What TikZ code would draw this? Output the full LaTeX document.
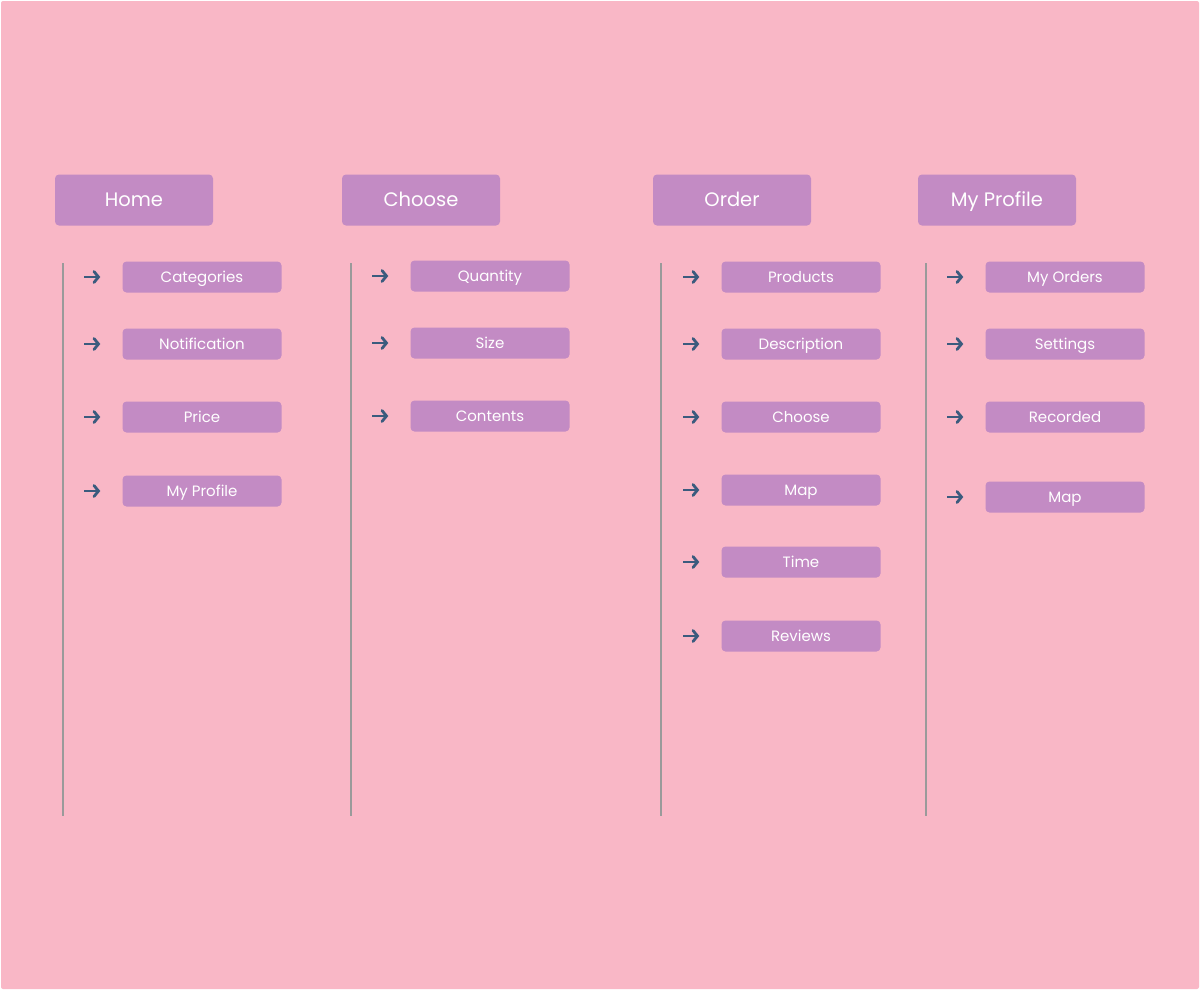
\documentclass[tikz,border=0pt]{standalone}
\usepackage{fontspec}
\setmainfont{Poppins}
\usetikzlibrary{arrows.meta}
\definecolor{bgpink}{HTML}{F9B7C6}
\definecolor{boxpurple}{HTML}{C38BC4}
\definecolor{arrowblue}{HTML}{3B5B7E}
\definecolor{linegray}{HTML}{9A9A9A}

\begin{document}
\begin{tikzpicture}[x=1pt,y=-1pt,
  head/.style={fill=boxpurple,rounded corners=4pt,minimum width=158pt,minimum height=51pt,inner sep=0pt,text=white,text height=16.5pt,text depth=3pt,font=\fontsize{19.5}{22}\selectfont},
  item/.style={fill=boxpurple,rounded corners=4pt,minimum width=159pt,minimum height=31pt,inner sep=0pt,text=white,text height=12.5pt,text depth=2.5pt,font=\fontsize{15}{17}\selectfont},
  bar/.style={linegray,line width=1.5pt},
  arr/.style={arrowblue,line width=2.8pt,-{Straight Barb[length=4.5pt,width=11pt,line cap=round]}}]
\useasboundingbox (0,0) rectangle (1200,991);
\fill [bgpink,rounded corners=2pt] (1,1) rectangle (1199,989);

% headers
\node [head] (home) at (134,200) {Home};
\node [head] (choose) at (421,200) {Choose};
\node [head] (order) at (732,200) {Order};
\node [head] (profile) at (997,200) {My Profile};

% side bars
\draw [bar] (63,263) -- (63,816);
\draw [bar] (351,263) -- (351,816);
\draw [bar] (661,263) -- (661,816);
\draw [bar] (926,263) -- (926,816);

% home
\foreach \t/\y [count=\n] in {Categories/277,Notification/344,Price/417,My Profile/491}{
  \node [item] (hm\n) at (202,\y) {\t};
  \draw [arr] ([xshift=-38pt]hm\n.west) -- ([xshift=-22pt]hm\n.west);
}
% choose
\foreach \t/\y [count=\n] in {Quantity/276,Size/343,Contents/416}{
  \node [item] (ch\n) at (490,\y) {\t};
  \draw [arr] ([xshift=-38pt]ch\n.west) -- ([xshift=-22pt]ch\n.west);
}
% order
\foreach \t/\y [count=\n] in {Products/277,Description/344,Choose/417,Map/490,Time/562,Reviews/636}{
  \node [item] (or\n) at (801,\y) {\t};
  \draw [arr] ([xshift=-38pt]or\n.west) -- ([xshift=-22pt]or\n.west);
}
% my profile
\foreach \t/\y [count=\n] in {My Orders/277,Settings/344,Recorded/417,Map/497}{
  \node [item] (pr\n) at (1065,\y) {\t};
  \draw [arr] ([xshift=-38pt]pr\n.west) -- ([xshift=-22pt]pr\n.west);
}
\end{tikzpicture}
\end{document}
